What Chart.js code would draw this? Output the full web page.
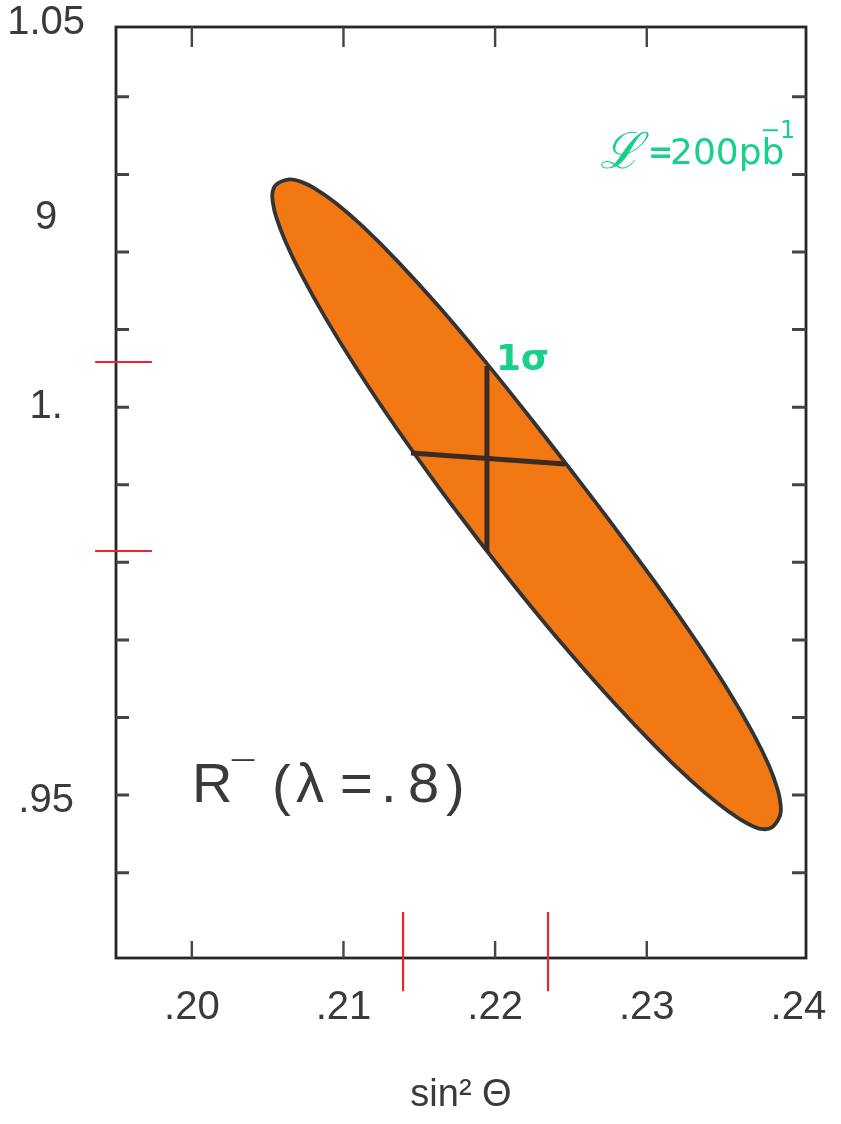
<!DOCTYPE html>
<html>
<head>
<meta charset="utf-8">
<script src="https://cdn.jsdelivr.net/npm/chart.js@4/dist/chart.umd.min.js"></script>
<style>
  html, body { margin: 0; padding: 0; background: #ffffff; }
  canvas { display: block; }
</style>
</head>
<body>
<canvas id="c" width="841" height="1124"></canvas>
<script>
// Axis ranges
const xRange = [0.195, 0.2405];
const yRange = [0.929, 1.049];

// Labelled ticks
const xTickValues = [0.20, 0.21, 0.22, 0.23, 0.24];
const xTickLabels = ['.20', '.21', '.22', '.23', '.24'];
const yTickValues = [0.9493, 1.00, 1.0244, 1.0495];
const yTickLabels = ['.95', '1.', '9', '1.05'];

// Short tick marks along the frame
const yMinorTicks = [0.94, 0.95, 0.96, 0.97, 0.98, 0.99, 1.00, 1.01, 1.02, 1.03, 1.04];
const xMinorTicks = [0.20, 0.21, 0.22, 0.23];

// 1 sigma contour, traced as one closed outline
// (lower edge up to the upper-left tip, upper edge down to the lower-right tip, back along the lower edge)
const contourX = [0.21893, 0.21616, 0.21348, 0.21091, 0.20882, 0.20720, 0.20618, 0.20557, 0.20534, 0.20532,
                  0.20557,
                  0.20643, 0.20713, 0.20807, 0.20949, 0.21127, 0.21362, 0.21629, 0.21927, 0.22216, 0.22499,
                  0.22779, 0.23053, 0.23318, 0.23534, 0.23701, 0.23805, 0.23864, 0.23883, 0.23877,
                  0.23824,
                  0.23766, 0.23703, 0.23614, 0.23474, 0.23294, 0.23054, 0.22780, 0.22474, 0.22179, 0.21893];
const contourY = [0.98278, 0.98999, 0.99734, 1.00486, 1.01148, 1.01717, 1.02133, 1.02447, 1.02640, 1.02767,
                  1.02871,
                  1.02935, 1.02910, 1.02824, 1.02631, 1.02329, 1.01870, 1.01296, 1.00606, 0.99902, 0.99190,
                  0.98473, 0.97748, 0.97008, 0.96358, 0.95796, 0.95383, 0.95065, 0.94866, 0.94727,
                  0.94582,
                  0.94560, 0.94596, 0.94689, 0.94885, 0.95183, 0.95635, 0.96199, 0.96876, 0.97570, 0.98278];

// Error cross inside the contour
const crossVX = [0.21946, 0.21946];
const crossVY = [1.00531, 0.98146];
const crossHX = [0.21445, 0.22461];
const crossHY = [0.99409, 0.99267];

// Red range marks on the axes
const markLoY = 0.98146, markHiY = 1.00582;
const markYX = [0.19362, 0.19737];
const markLoX = 0.21393, markHiX = 0.22349;
const markXY = [0.93492, 0.92470];

const pts = (xs, ys) => xs.map((x, i) => ({ x, y: ys[i] }));
const hLine = (xs, y) => xs.map(x => ({ x, y }));
const vLine = (x, ys) => ys.map(y => ({ x, y }));

const INK = '#3a3a3a';
const GREEN = '#19cf8c';
const RED = '#e8282c';
const TICK_FONT = { family: "'Liberation Sans', Arial, sans-serif", size: 40 };

const lineBase = { pointRadius: 0, pointHoverRadius: 0, fill: false, tension: 0 };

const frame = {
  id: 'frame',
  beforeDatasetsDraw(chart) {
    const { ctx, chartArea: a, scales: { x, y } } = chart;
    ctx.save();
    ctx.strokeStyle = '#262626';
    ctx.lineWidth = 2.8;
    ctx.strokeRect(a.left, a.top, a.right - a.left, a.bottom - a.top);
    ctx.strokeStyle = '#444';
    ctx.lineWidth = 3;
    ctx.beginPath();
    yMinorTicks.forEach(v => {
      const py = y.getPixelForValue(v);
      ctx.moveTo(a.left, py); ctx.lineTo(a.left + 13, py);
      ctx.moveTo(a.right, py); ctx.lineTo(a.right - 14, py);
    });
    ctx.stroke();
    ctx.lineWidth = 2.4;
    ctx.beginPath();
    xMinorTicks.forEach(v => {
      const px = x.getPixelForValue(v);
      ctx.moveTo(px, a.bottom); ctx.lineTo(px, a.bottom - 17);
      ctx.moveTo(px, a.top); ctx.lineTo(px, a.top + 20);
    });
    ctx.stroke();
    ctx.restore();
  },
  afterDraw(chart) {
    const { ctx } = chart;
    ctx.save();
    // Green annotations
    ctx.fillStyle = GREEN;
    ctx.textBaseline = 'alphabetic';
    ctx.font = "bold 36px 'DejaVu Sans', sans-serif";
    ctx.fillText('1σ', 496, 370);

    ctx.font = "italic 50px 'DejaVu Serif', serif";
    ctx.fillText('ℒ', 600, 168);
    ctx.font = "bold 30px 'DejaVu Sans', sans-serif";
    ctx.fillText('=', 648, 162);
    ctx.font = "36px 'DejaVu Sans', sans-serif";
    ctx.fillText('200pb', 670, 164);
    ctx.font = "24px 'DejaVu Sans', sans-serif";
    ctx.fillText('−1', 760, 138);

    // Curve label
    ctx.fillStyle = INK;
    ctx.font = "56px 'Liberation Sans', Arial, sans-serif";
    ctx.fillText('R', 192, 802);
    ctx.font = "40px 'Liberation Sans', Arial, sans-serif";
    ctx.fillText('¯', 232, 790);
    ctx.font = "56px 'Liberation Sans', Arial, sans-serif";
    ctx.fillText('(', 272, 804);
    ctx.fillText('λ', 296, 802);
    ctx.fillText('=', 340, 802);
    ctx.fillText('.', 381, 802);
    ctx.fillText('8', 408, 802);
    ctx.fillText(')', 446, 804);
    ctx.restore();
  }
};

new Chart(document.getElementById('c'), {
  type: 'line',
  data: {
    datasets: [
      { ...lineBase, data: pts(crossVX, crossVY), borderColor: '#3b2b24', borderWidth: 5 },
      { ...lineBase, data: pts(crossHX, crossHY), borderColor: '#3b2b24', borderWidth: 5 },
      { ...lineBase, data: pts(contourX, contourY), borderColor: '#333333', borderWidth: 3.8, tension: 0.4,
        backgroundColor: '#f27814', fill: 'shape' },
      { ...lineBase, data: hLine(markYX, markHiY), borderColor: RED, borderWidth: 2.2, clip: false },
      { ...lineBase, data: hLine(markYX, markLoY), borderColor: RED, borderWidth: 2.2, clip: false },
      { ...lineBase, data: vLine(markLoX, markXY), borderColor: RED, borderWidth: 2.2, clip: false },
      { ...lineBase, data: vLine(markHiX, markXY), borderColor: RED, borderWidth: 2.2, clip: false }
    ]
  },
  options: {
    responsive: false,
    devicePixelRatio: 1,
    animation: false,
    events: [],
    layout: { padding: { top: 27, right: 35, bottom: 0, left: 0 } },
    plugins: { legend: { display: false }, tooltip: { enabled: false } },
    scales: {
      x: {
        type: 'linear',
        min: xRange[0], max: xRange[1],
        grid: { display: false, drawTicks: false },
        border: { display: false },
        afterBuildTicks: s => { s.ticks = xTickValues.map(v => ({ value: v })); },
        afterFit: s => { s.height = 166; s.paddingLeft = 0; s.paddingRight = 0; },
        ticks: {
          autoSkip: false, maxRotation: 0, padding: 26, color: INK, font: TICK_FONT,
          callback: (v, i) => xTickLabels[i]
        },
        title: {
          display: true, text: 'sin² Θ', color: INK,
          font: { family: "'Liberation Sans', Arial, sans-serif", size: 38 },
          padding: { top: 0, bottom: 6 }
        }
      },
      y: {
        type: 'linear',
        min: yRange[0], max: yRange[1],
        grid: { display: false, drawTicks: false },
        border: { display: false },
        afterBuildTicks: s => { s.ticks = yTickValues.map(v => ({ value: v })); },
        afterFit: s => { s.width = 116; s.paddingTop = 0; s.paddingBottom = 0; },
        ticks: {
          autoSkip: false, padding: 31, crossAlign: 'center', color: INK, font: TICK_FONT,
          callback: (v, i) => yTickLabels[i]
        }
      }
    }
  },
  plugins: [frame]
});
</script>
</body>
</html>
